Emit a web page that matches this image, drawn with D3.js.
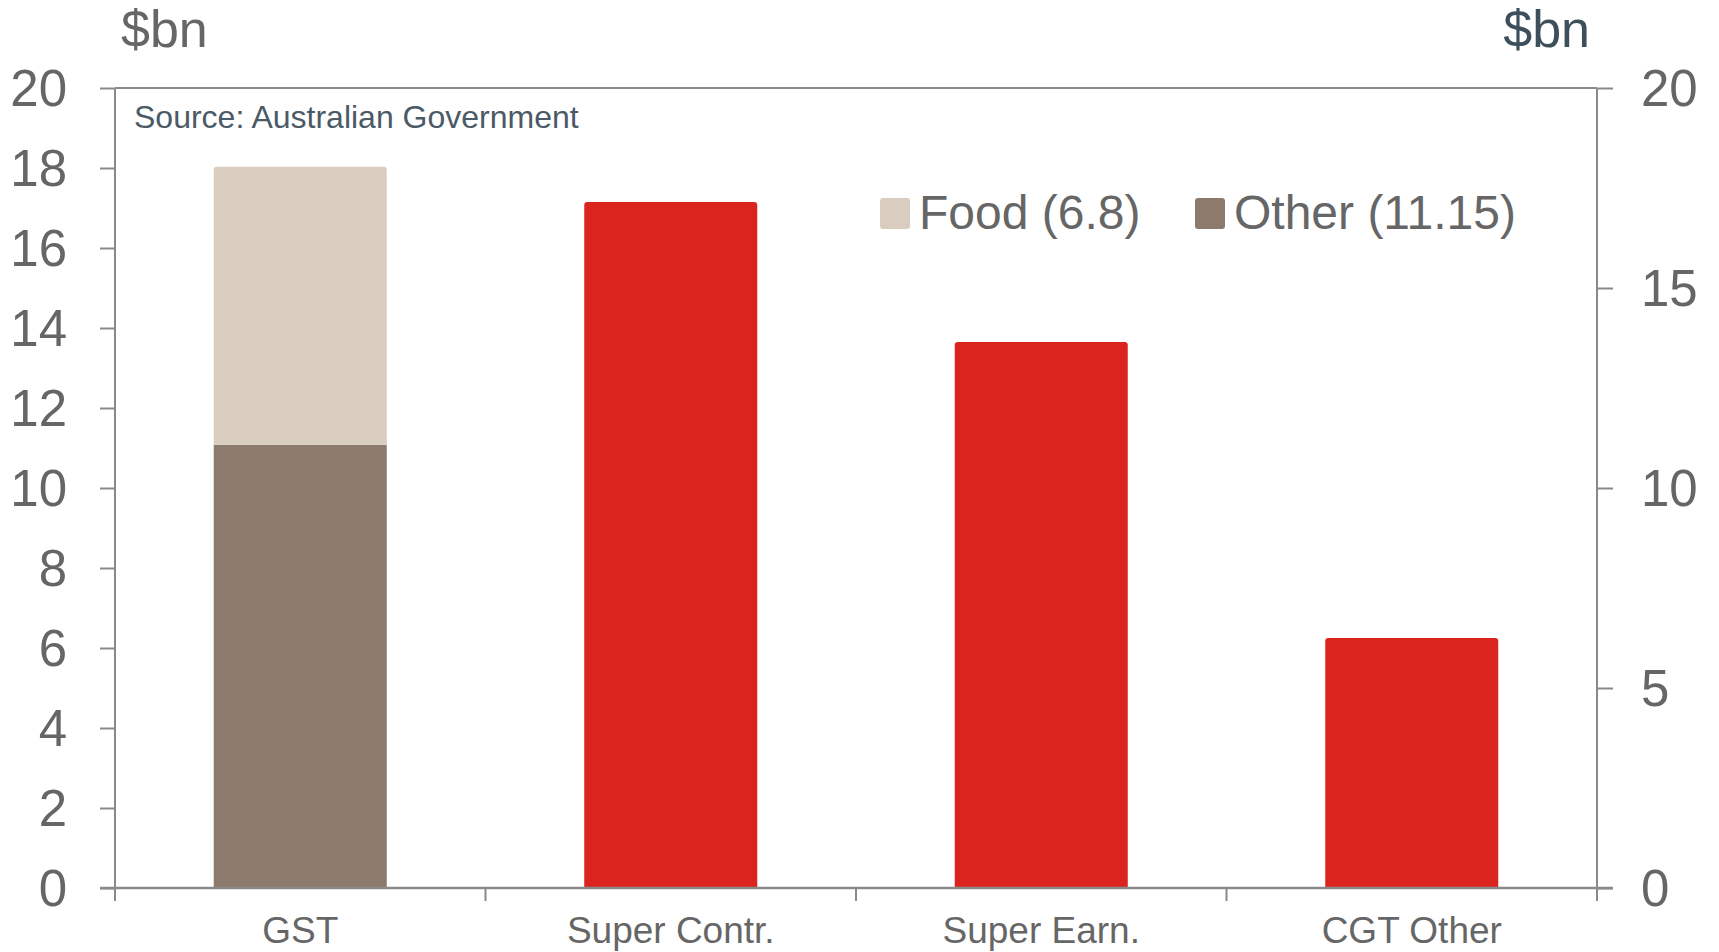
<!DOCTYPE html>
<html>
<head>
<meta charset="utf-8">
<script src="https://cdn.jsdelivr.net/npm/d3@7"></script>
<style>
    body { margin: 0; background: #fff; }
    svg { display: block; font-family: "Liberation Sans", Arial, sans-serif; }
</style>
</head>
<body>
<div class="canvas"></div>
<script>
// data
const categories = ['GST', 'Super Contr.', 'Super Earn.', 'CGT Other']
const otherValues = [11.08, 0, 0, 0]
const foodValues = [6.95, 0, 0, 0]
const singleValues = [0, 17.15, 13.65, 6.25]
const leftTicks = [0, 2, 4, 6, 8, 10, 12, 14, 16, 18, 20]
const rightTicks = [0, 5, 10, 15, 20]
const legendItems = ['Food (6.8)', 'Other (11.15)']

// graph dimensions
const dims = { width: 1719, height: 952 }
const margins = { top: 88, right: 122, bottom: 64, left: 115 }
const graphDims = {
    width: dims.width - margins.left - margins.right,
    height: dims.height - margins.top - margins.bottom
}

const colours = {
    food: '#d9cdbf',
    other: '#8c7b6d',
    red: '#dc241f',
    axis: '#8a8a8a',
    text: '#666666',
    slate: '#4b5a66'
}

const svg = d3.select('.canvas')
    .append('svg')
    .attr('width', dims.width)
    .attr('height', dims.height)

const graph = svg.append('g')
    .attr('transform', `translate(${margins.left}, ${margins.top})`)

// scales
const x = d3.scaleBand()
    .domain(categories)
    .range([0, graphDims.width])
    .padding(0)

const barShare = 0.467

const yLeft = d3.scaleLinear().domain([0, 20]).range([graphDims.height, 0])
const yRight = d3.scaleLinear().domain([0, 20]).range([graphDims.height, 0])

// rounded-top bar path
const barPath = (x0, w, y0, y1, r) => {
    const h = y1 - y0
    r = Math.min(r, h / 2, w / 2)
    return `M${x0},${y1}V${y0 + r}Q${x0},${y0} ${x0 + r},${y0}H${x0 + w - r}Q${x0 + w},${y0} ${x0 + w},${y0 + r}V${y1}Z`
}

const barX = d => x(d) + x.bandwidth() * (1 - barShare) / 2
const barW = x.bandwidth() * barShare

// stacked GST bars
const stacked = categories.map((c, i) => ({ cat: c, other: otherValues[i], food: foodValues[i] }))
    .filter(d => d.other + d.food > 0)

graph.selectAll('path.other')
    .data(stacked)
    .enter()
    .append('path')
    .attr('class', 'other')
    .attr('fill', colours.other)
    .attr('d', d => barPath(barX(d.cat), barW, yLeft(d.other), yLeft(0), 0))

graph.selectAll('path.food')
    .data(stacked)
    .enter()
    .append('path')
    .attr('class', 'food')
    .attr('fill', colours.food)
    .attr('d', d => barPath(barX(d.cat), barW, yLeft(d.other + d.food), yLeft(d.other), 3))

// single red bars
const singles = categories.map((c, i) => ({ cat: c, value: singleValues[i] }))
    .filter(d => d.value > 0)

graph.selectAll('path.single')
    .data(singles)
    .enter()
    .append('path')
    .attr('class', 'single')
    .attr('fill', colours.red)
    .attr('d', d => barPath(barX(d.cat), barW, yLeft(d.value), yLeft(0), 3))

// left axis
const leftAxis = graph.append('g')
    .call(d3.axisLeft(yLeft).tickValues(leftTicks).tickSize(15).tickPadding(33).tickSizeOuter(0))
leftAxis.select('.domain').remove()
leftAxis.append('line')
    .attr('x1', 0).attr('x2', 0)
    .attr('y1', 0).attr('y2', graphDims.height + 13)

// right axis
const rightAxis = graph.append('g')
    .attr('transform', `translate(${graphDims.width}, 0)`)
    .call(d3.axisRight(yRight).tickValues(rightTicks).tickSize(16).tickPadding(28).tickSizeOuter(0))
rightAxis.select('.domain').remove()
rightAxis.append('line')
    .attr('x1', 0).attr('x2', 0)
    .attr('y1', 0).attr('y2', graphDims.height + 13)

;[leftAxis, rightAxis].forEach(ax => {
    ax.selectAll('line').attr('stroke', colours.axis).attr('stroke-width', 2)
    ax.selectAll('text')
        .attr('fill', colours.text)
        .attr('font-size', 51)
        .attr('dy', '0.34em')
        .style('font-family', '"Liberation Sans", Arial, sans-serif')
})

// top frame line
graph.append('line')
    .attr('x1', 0).attr('x2', graphDims.width)
    .attr('y1', 0).attr('y2', 0)
    .attr('stroke', colours.axis)
    .attr('stroke-width', 2)

// bottom axis
const bottom = graph.append('g')
    .attr('transform', `translate(0, ${graphDims.height})`)

bottom.append('line')
    .attr('x1', -15).attr('x2', graphDims.width + 16)
    .attr('y1', 0).attr('y2', 0)
    .attr('stroke', colours.axis)
    .attr('stroke-width', 2.5)

bottom.selectAll('line.tick')
    .data(categories.slice(1))
    .enter()
    .append('line')
    .attr('class', 'tick')
    .attr('x1', d => x(d)).attr('x2', d => x(d))
    .attr('y1', 0).attr('y2', 13)
    .attr('stroke', colours.axis)
    .attr('stroke-width', 2)

bottom.selectAll('text')
    .data(categories)
    .enter()
    .append('text')
    .attr('x', d => x(d) + x.bandwidth() / 2)
    .attr('y', 55)
    .attr('text-anchor', 'middle')
    .attr('font-size', 37)
    .attr('fill', colours.text)
    .text(d => d)

// unit labels
svg.append('text')
    .attr('x', 121).attr('y', 47)
    .attr('font-size', 52)
    .attr('fill', colours.text)
    .text('$bn')

svg.append('text')
    .attr('x', 1590).attr('y', 47)
    .attr('text-anchor', 'end')
    .attr('font-size', 52)
    .attr('fill', '#3e4f5c')
    .text('$bn')

// source note
svg.append('text')
    .attr('x', 134).attr('y', 128)
    .attr('font-size', 32)
    .attr('fill', colours.slate)
    .text('Source: Australian Government')

// legend
const legendPos = [880, 1195]
const legendColours = [colours.food, colours.other]
const legend = svg.selectAll('g.legend')
    .data(legendItems)
    .enter()
    .append('g')
    .attr('class', 'legend')
    .attr('transform', (d, i) => `translate(${legendPos[i]}, 198)`)

legend.append('rect')
    .attr('width', 30).attr('height', 31)
    .attr('rx', 3)
    .attr('fill', (d, i) => legendColours[i])

legend.append('text')
    .attr('x', 39).attr('y', 31)
    .attr('font-size', 48)
    .attr('fill', colours.text)
    .text(d => d)
</script>
</body>
</html>
